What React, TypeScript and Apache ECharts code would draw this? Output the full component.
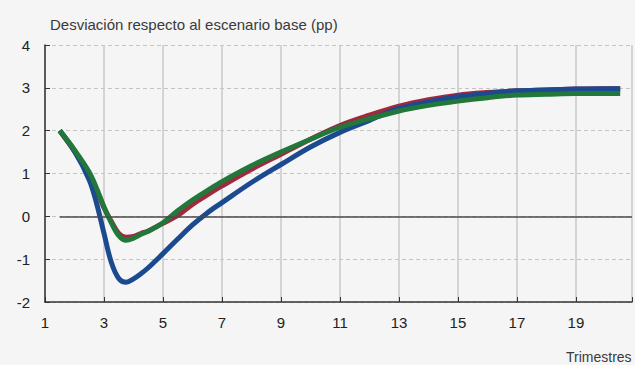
import React, { useEffect, useRef } from "react";
import * as echarts from "echarts";

const xValues = [1.5, 2, 2.5, 2.75, 3, 3.25, 3.5, 3.75, 4, 4.25, 4.5, 5, 5.5, 6, 6.5, 7, 8, 9, 10, 11, 12, 13, 14, 15, 16, 17, 18, 19, 20, 20.5];
const redValues = [2.0, 1.52, 0.98, 0.62, 0.2, -0.12, -0.4, -0.49, -0.47, -0.4, -0.34, -0.16, 0.02, 0.28, 0.5, 0.71, 1.1, 1.45, 1.8, 2.12, 2.36, 2.57, 2.72, 2.83, 2.89, 2.93, 2.95, 2.97, 2.98, 2.98];
const blueValues = [2.0, 1.52, 0.85, 0.3, -0.4, -1.08, -1.45, -1.54, -1.46, -1.34, -1.2, -0.87, -0.53, -0.2, 0.08, 0.32, 0.79, 1.21, 1.62, 1.96, 2.24, 2.52, 2.67, 2.79, 2.87, 2.93, 2.95, 2.97, 2.98, 2.98];
const greenValues = [2.0, 1.55, 1.03, 0.65, 0.22, -0.15, -0.45, -0.56, -0.51, -0.42, -0.35, -0.15, 0.13, 0.38, 0.6, 0.81, 1.18, 1.5, 1.8, 2.08, 2.28, 2.46, 2.59, 2.69, 2.77, 2.83, 2.85, 2.87, 2.87, 2.87];

const titleText = "Desviación respecto al escenario base (pp)";
const xAxisName = "Trimestres";

const FONT = "Liberation Sans, Arial, Helvetica, sans-serif";

export default function App() {
  const ref = useRef<HTMLDivElement>(null);
  useEffect(() => {
    if (!ref.current) return;
    const chart = echarts.init(ref.current, null, { renderer: "svg" });
    const pairs = (ys: number[]) => xValues.map((x, i) => [x, ys[i]]);
    const lineSeries = (name: string, ys: number[], color: string, z: number, extra: any = {}) => ({
      name,
      type: "line",
      data: pairs(ys),
      smooth: 0.35,
      showSymbol: false,
      symbol: "none",
      z,
      lineStyle: { color, width: 5, cap: "butt", join: "round" },
      itemStyle: { color },
      ...extra,
    });
    chart.setOption({
      animation: false,
      backgroundColor: "#f5f5f5",
      textStyle: { fontFamily: FONT },
      title: {
        text: titleText,
        left: 45,
        top: 12,
        textStyle: { fontSize: 15, fontWeight: "normal", color: "#3a3a3a", fontFamily: FONT },
      },
      graphic: [
        {
          type: "text",
          left: 566,
          top: 350,
          style: { text: xAxisName, fontSize: 14, fill: "#3a3a3a", fontFamily: FONT },
        },
      ],
      grid: { left: 45, right: 0, top: 45, bottom: 63, containLabel: false },
      xAxis: {
        type: "value",
        min: 1,
        max: 20.9,
        interval: 2,
        axisLine: { show: true, onZero: false, lineStyle: { color: "#333", width: 1.5 } },
        axisTick: { show: true, inside: true, length: 5, lineStyle: { color: "#333" } },
        axisLabel: {
          margin: 13,
          fontSize: 15,
          color: "#222",
          fontFamily: FONT,
          formatter: (v: number) => (Math.abs(v - Math.round(v)) < 1e-6 ? String(v) : ""),
        },
        splitLine: { show: true, lineStyle: { color: "#c9c9c9", width: 1.5, type: "solid" } },
      },
      yAxis: {
        type: "value",
        min: -2,
        max: 4,
        interval: 1,
        axisLine: { show: true, lineStyle: { color: "#333", width: 1.5 } },
        axisTick: { show: true, inside: true, length: 5, lineStyle: { color: "#333" } },
        axisLabel: { margin: 15, fontSize: 15, color: "#222", fontFamily: FONT },
        splitLine: { show: true, lineStyle: { color: "#c4c4c4", width: 1, type: [4, 3] } },
      },
      series: [
        lineSeries("rojo", redValues, "#a0283f", 2, {
          markLine: {
            silent: true,
            symbol: "none",
            label: { show: false },
            lineStyle: { color: "#4a4a4a", width: 1.5, type: "solid" },
            data: [[{ coord: [1.5, 0] }, { coord: [20.9, 0] }]],
          },
        }),
        lineSeries("azul", blueValues, "#1b4a8f", 3),
        lineSeries("verde", greenValues, "#22773a", 4),
      ],
    });
    return () => chart.dispose();
  }, []);
  return (
    <div
      ref={ref}
      style={{ position: "fixed", left: 0, top: 0, width: 635, height: 365 }}
    />
  );
}
